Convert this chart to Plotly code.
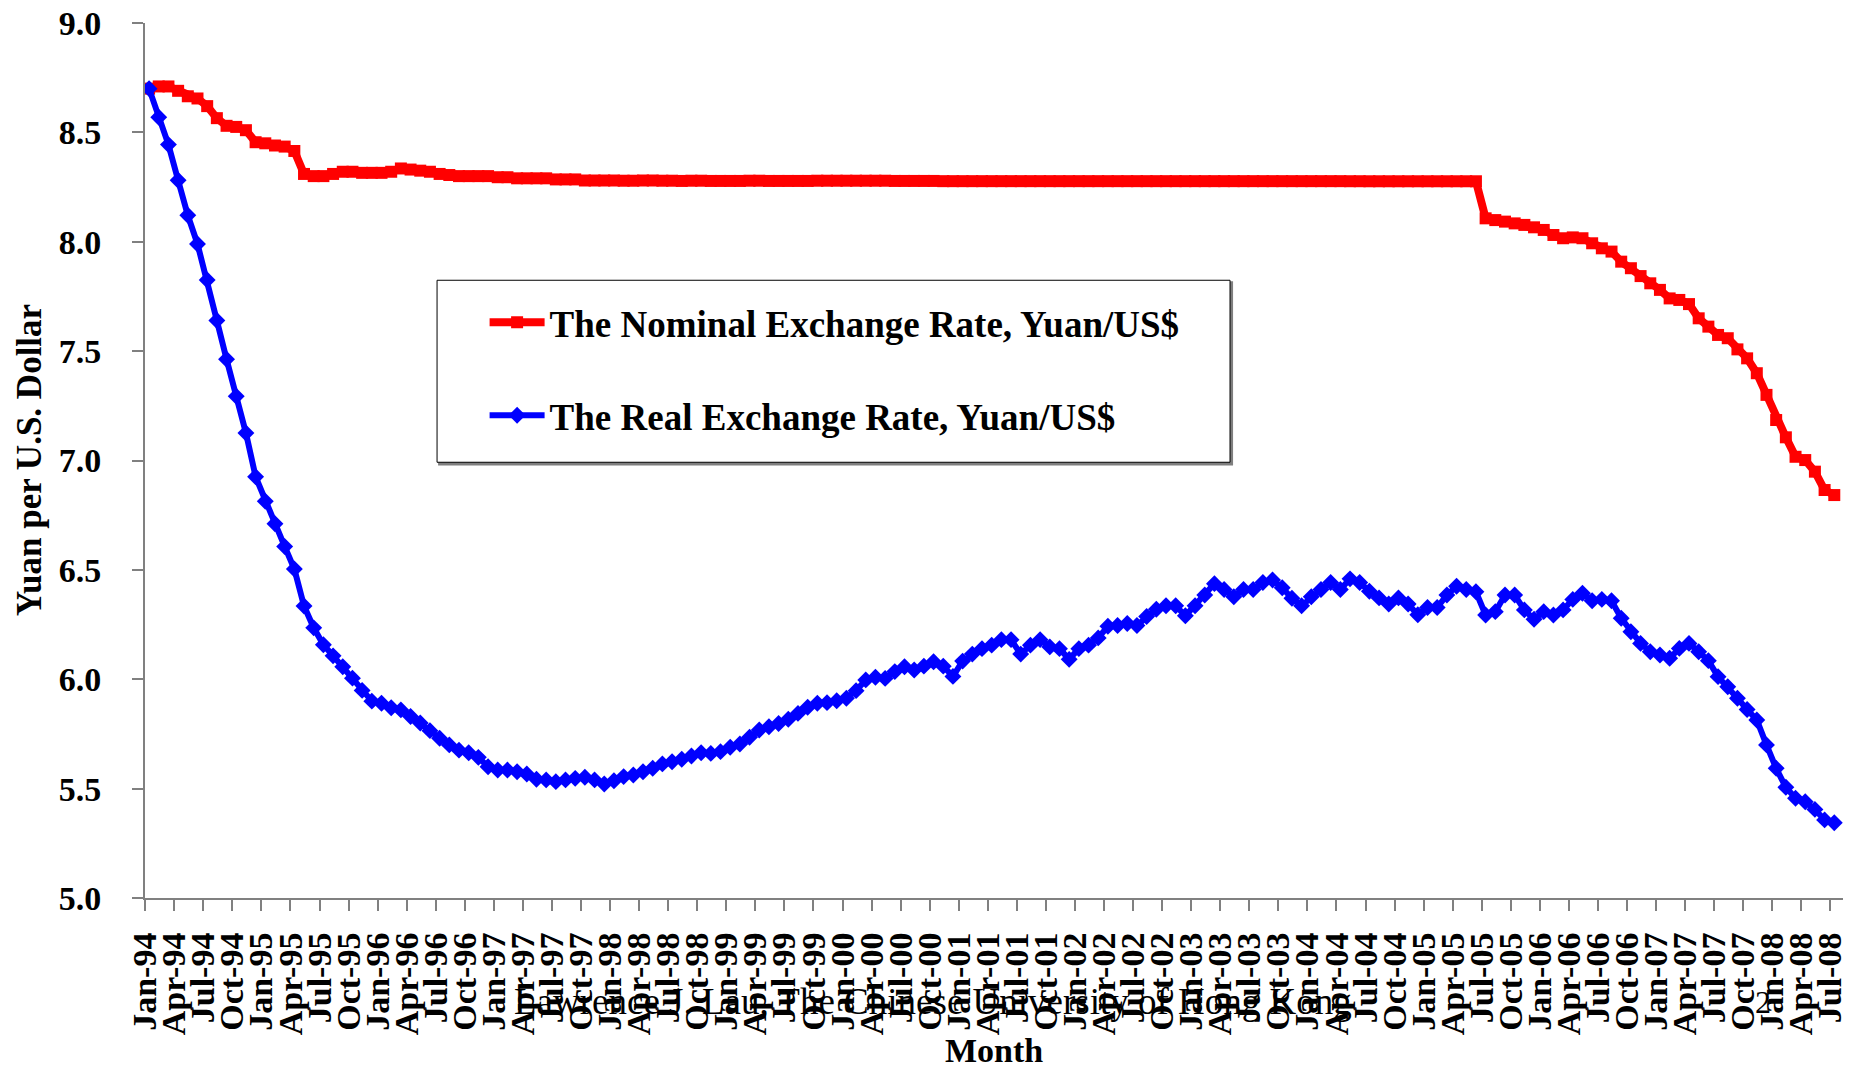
import pandas as pd
import plotly.graph_objects as go

# monthly, Jan-94 .. Jul-08
months = pd.date_range("1994-01-01", "2008-07-01", freq="MS").strftime("%b-%y").tolist()

nominal = [
    8.70, 8.71, 8.71, 8.69, 8.665, 8.655, 8.62, 8.565, 8.53, 8.525, 8.51, 8.455,
    8.45, 8.44, 8.435, 8.415, 8.31, 8.30, 8.30, 8.31, 8.32, 8.32, 8.315, 8.315,
    8.315, 8.32, 8.335, 8.33, 8.325, 8.32, 8.31, 8.305, 8.30, 8.30, 8.30, 8.30,
    8.295, 8.295, 8.29, 8.29, 8.29, 8.29, 8.285, 8.285, 8.285, 8.28, 8.28, 8.28,
    8.28, 8.279, 8.279, 8.280, 8.280, 8.279, 8.279, 8.278, 8.279, 8.279, 8.278, 8.278,
    8.278, 8.278, 8.279, 8.279, 8.278, 8.278, 8.278, 8.278, 8.278, 8.279, 8.279, 8.279,
    8.279, 8.279, 8.279, 8.279, 8.279, 8.278, 8.278, 8.278, 8.278, 8.278, 8.277, 8.277,
    8.277, 8.277, 8.277, 8.277, 8.277, 8.277, 8.277, 8.277, 8.277, 8.277, 8.277, 8.277,
    8.277, 8.277, 8.277, 8.277, 8.277, 8.277, 8.277, 8.277, 8.277, 8.277, 8.277, 8.277,
    8.277, 8.277, 8.277, 8.277, 8.277, 8.277, 8.277, 8.277, 8.277, 8.277, 8.277, 8.277,
    8.277, 8.277, 8.277, 8.277, 8.2767, 8.2767, 8.2765, 8.2765, 8.2765, 8.2765, 8.2765, 8.2765,
    8.2765, 8.2765, 8.2765, 8.2765, 8.2765, 8.2765, 8.107, 8.099, 8.092, 8.084, 8.077, 8.066,
    8.054, 8.031, 8.016, 8.02, 8.016, 7.993, 7.97, 7.955, 7.909, 7.879, 7.843, 7.81,
    7.78, 7.741, 7.734, 7.715, 7.65, 7.612, 7.574, 7.559, 7.508, 7.467, 7.399, 7.30,
    7.185, 7.106, 7.017, 7.002, 6.949, 6.865, 6.842,
]

real = [
    8.70, 8.569, 8.444, 8.281, 8.121, 7.99, 7.825, 7.64, 7.463, 7.294, 7.126, 6.926,
    6.814, 6.711, 6.607, 6.504, 6.335, 6.235, 6.158, 6.107, 6.057, 6.005, 5.949, 5.90,
    5.89, 5.87, 5.86, 5.83, 5.80, 5.765, 5.73, 5.70, 5.676, 5.664, 5.643, 5.60,
    5.585, 5.585, 5.577, 5.567, 5.543, 5.54, 5.532, 5.54, 5.547, 5.552, 5.54, 5.521,
    5.536, 5.555, 5.562, 5.577, 5.593, 5.613, 5.623, 5.634, 5.649, 5.664, 5.661, 5.669,
    5.689, 5.704, 5.735, 5.768, 5.783, 5.798, 5.817, 5.844, 5.872, 5.89, 5.893, 5.902,
    5.913, 5.948, 5.997, 6.009, 6.004, 6.035, 6.057, 6.042, 6.06, 6.08, 6.06, 6.013,
    6.083, 6.115, 6.14, 6.156, 6.181, 6.181, 6.115, 6.156, 6.181, 6.148, 6.14, 6.091,
    6.14, 6.156, 6.189, 6.242, 6.246, 6.255, 6.246, 6.287, 6.32, 6.336, 6.336, 6.29,
    6.336, 6.385, 6.437, 6.41, 6.377, 6.41, 6.41, 6.442, 6.454, 6.418, 6.37, 6.336,
    6.377, 6.41, 6.442, 6.41, 6.459, 6.442, 6.402, 6.372, 6.344, 6.372, 6.344, 6.295,
    6.328, 6.328, 6.385, 6.425, 6.41, 6.40, 6.294, 6.309, 6.385, 6.385, 6.317, 6.274,
    6.309, 6.294, 6.317, 6.365, 6.393, 6.359, 6.365, 6.359, 6.279, 6.217, 6.164, 6.126,
    6.111, 6.096, 6.141, 6.164, 6.126, 6.085, 6.012, 5.966, 5.913, 5.862, 5.814, 5.70,
    5.593, 5.506, 5.456, 5.44, 5.405, 5.357, 5.344,
]

assert len(months) == len(nominal) == len(real), (len(months), len(nominal), len(real))

tick_labels = months[::3]
tick_pos = [i - 0.4 for i in range(0, len(months), 3)]
idx = list(range(len(months)))

serif = "Liberation Serif, Times New Roman, serif"

fig = go.Figure()
fig.add_trace(go.Scatter(
    x=idx, y=nominal, mode="lines+markers", name="The Nominal Exchange Rate, Yuan/US$",
    line=dict(color="#ff0000", width=8), marker=dict(symbol="square", size=12, color="#ff0000"),
    legendgroup="a", text=months, hovertemplate="%{text}: %{y:.3f}<extra></extra>"))
fig.add_trace(go.Scatter(
    x=idx, y=real, mode="lines+markers", name="The Real Exchange Rate, Yuan/US$",
    line=dict(color="#0000ff", width=6), marker=dict(symbol="diamond", size=13, color="#0000ff"),
    legendgroup="b", text=months, hovertemplate="%{text}: %{y:.3f}<extra></extra>"))

axis_grey = "#808080"
fig.update_xaxes(
    range=[-0.42, 174.9], tickmode="array", tickvals=tick_pos, ticktext=tick_labels,
    tickangle=-90, ticks="outside", ticklen=11, tickwidth=2, tickcolor=axis_grey,
    showline=True, linecolor=axis_grey, linewidth=2, showgrid=False, zeroline=False,
    tickfont=dict(family=serif, size=34, color="black", weight="bold"), ticklabelstandoff=8,
    ticklabeloverflow="allow", automargin=False)
fig.update_yaxes(
    range=[5, 9], dtick=0.5, tickformat=".1f", ticks="outside", ticklen=11, tickwidth=2,
    tickcolor=axis_grey, showline=True, linecolor=axis_grey, linewidth=2, showgrid=False,
    zeroline=False, tickfont=dict(family=serif, size=34, color="black", weight="bold"),
    ticklabelstandoff=24, ticklabeloverflow="allow", automargin=False)

# legend frame with a small drop shadow
fig.add_shape(type="rect", xref="paper", yref="paper", x0=0.1732, x1=0.6402, y0=0.4955, y1=0.7038,
              line=dict(color="#7f7f7f", width=2), fillcolor="#7f7f7f", layer="below")
fig.add_shape(type="rect", xref="paper", yref="paper", x0=0.172, x1=0.639, y0=0.498, y1=0.706,
              line=dict(color="black", width=1), fillcolor="white", layer="below")

fig.add_annotation(text="Yuan per U.S. Dollar", xref="paper", yref="paper", x=-0.068, y=0.5,
                   xanchor="center", yanchor="middle", textangle=-90, showarrow=False,
                   font=dict(family=serif, size=35, weight="bold"))
fig.add_annotation(text="Month", xref="paper", yref="paper", x=0.5, y=-0.174,
                   xanchor="center", yanchor="middle", showarrow=False,
                   font=dict(family=serif, size=34, weight="bold"))
fig.add_annotation(text="Lawrence J. Lau, The Chinese University of Hong Kong", xref="paper",
                   yref="paper", x=0.464, y=-0.118, xanchor="center", yanchor="middle",
                   showarrow=False, font=dict(family=serif, size=37, weight="normal"))
fig.add_annotation(text="2", xref="paper", yref="paper", x=0.953, y=-0.119,
                   xanchor="center", yanchor="middle", showarrow=False,
                   font=dict(family=serif, size=32, weight="normal"))

# the page body adds 8px, so the figure is 8px smaller than the window
fig.update_layout(
    width=1843, height=1061, paper_bgcolor="white", plot_bgcolor="white",
    margin=dict(l=137, r=8, t=15, b=171, autoexpand=False),
    font=dict(family=serif, color="black", weight="bold"),
    showlegend=True,
    legend=dict(x=0.2, y=0.693, xanchor="left", yanchor="top", bgcolor="rgba(0,0,0,0)",
                borderwidth=0, font=dict(family=serif, size=37, weight="bold"),
                tracegroupgap=42, itemwidth=55),
)

fig.write_html("out.html")
